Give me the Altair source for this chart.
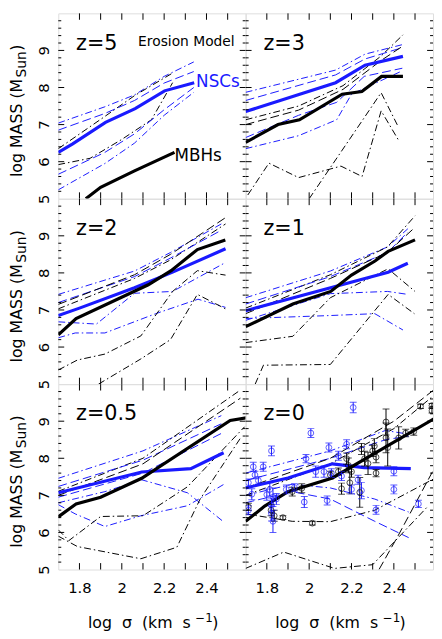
import altair as alt
import pandas as pd

# ------------------------------------------------------------------ data
X_DOMAIN = [1.7, 2.585]
Y_DOMAIN = [5.0, 10.0]
X_LABEL_VALUES = [1.8, 2.0, 2.2, 2.4]
Y_LABEL_VALUES = [5, 6, 7, 8, 9]
X_TICK_VALUES = [1.8, 1.9, 2.0, 2.1, 2.2, 2.3, 2.4, 2.5]
Y_MAJOR_TICKS = [6, 7, 8, 9]
Y_MINOR_TICKS = [5.2, 5.4, 5.6, 5.8, 6.2, 6.4, 6.6, 6.8, 7.2, 7.4, 7.6, 7.8,
                 8.2, 8.4, 8.6, 8.8, 9.2, 9.4, 9.6, 9.8]

PANEL_NAMES = ["z=5", "z=3", "z=2", "z=1", "z=0.5", "z=0"]

# series keys: "nsc"/"mbh" = medians; "_dd" = dash-dot, "_ld" = long dash
Z5 = {
    "nsc_dd_hi": ([1.70, 1.92, 2.06, 2.20, 2.34], [7.04, 7.48, 7.80, 8.30, 8.69]),
    "nsc_ld_hi": ([1.70, 1.92, 2.06, 2.20, 2.34], [6.85, 7.30, 7.65, 8.12, 8.43]),
    "nsc_dd_lo": ([1.70, 1.92, 2.06, 2.20, 2.34], [5.24, 5.95, 6.50, 7.25, 7.87]),
    "nsc_ld_lo": ([1.70, 1.92, 2.06, 2.20, 2.34], [5.66, 6.25, 6.75, 7.40, 8.00]),
    "mbh_dd_hi": ([1.70, 1.92, 2.06, 2.24], [6.35, 7.22, 7.78, 8.39]),
    "mbh_dd_lo": ([1.70, 1.85, 2.00, 2.14, 2.24], [5.92, 6.09, 6.60, 7.13, 8.13]),
    "nsc": ([1.70, 1.768, 1.923, 2.063, 2.202, 2.342], [6.25, 6.48, 7.06, 7.43, 7.91, 8.13]),
    "mbh": ([1.83, 1.90, 2.06, 2.249], [5.00, 5.31, 5.75, 6.25]),
}
Z3 = {
    "nsc_dd_hi": ([1.70, 2.125, 2.264, 2.443], [7.87, 8.47, 8.90, 9.16]),
    "nsc_ld_hi": ([1.70, 2.125, 2.264, 2.443], [7.65, 8.34, 8.77, 9.08]),
    "nsc_ld_lo": ([1.70, 1.95, 2.13, 2.26, 2.44], [6.65, 7.25, 7.60, 8.30, 8.52]),
    "nsc_dd_lo": ([1.70, 1.95, 2.13, 2.20, 2.44], [6.35, 6.70, 7.13, 7.82, 8.45]),
    "mbh_ld_hi": ([1.70, 1.95, 2.16, 2.34, 2.443], [7.00, 7.39, 7.95, 8.73, 9.12]),
    "mbh_dd_hi": ([1.70, 1.95, 2.16, 2.34, 2.443], [7.13, 7.50, 8.05, 8.85, 9.42]),
    "mbh_dd_lo1": ([1.71, 1.81, 1.95, 2.15, 2.25, 2.34, 2.42], [5.10, 5.96, 5.57, 5.88, 5.60, 7.37, 6.60]),
    "mbh_dd_lo2": ([2.00, 2.25, 2.34, 2.42], [5.00, 7.10, 7.86, 6.95]),
    "nsc": ([1.70, 2.125, 2.264, 2.443], [7.35, 8.13, 8.60, 8.84]),
    "mbh": ([1.70, 1.853, 1.954, 2.156, 2.249, 2.342, 2.443], [6.52, 7.00, 7.13, 7.82, 7.89, 8.30, 8.30]),
}
Z2 = {
    "nsc_dd_hi": ([1.70, 2.06, 2.23, 2.47], [7.42, 8.05, 8.55, 9.32]),
    "nsc_ld_hi": ([1.70, 2.06, 2.23, 2.47], [7.20, 7.90, 8.40, 9.15]),
    "nsc_dd_lo1": ([1.70, 1.88, 2.06, 2.24, 2.49], [6.68, 6.62, 7.45, 7.50, 8.28]),
    "nsc_dd_lo2": ([1.70, 1.78, 1.92, 2.16, 2.36, 2.49], [6.25, 6.38, 6.38, 6.90, 7.29, 7.07]),
    "mbh_ld_hi": ([1.70, 2.06, 2.23, 2.49], [7.15, 7.95, 8.50, 9.49]),
    "mbh_dd_hi": ([1.70, 2.06, 2.23, 2.49], [7.03, 7.85, 8.35, 9.32]),
    "mbh_dd_lo1": ([1.70, 1.79, 1.92, 2.09, 2.24, 2.357, 2.49], [5.38, 5.65, 5.81, 6.30, 7.50, 8.06, 7.94]),
    "mbh_dd_lo2": ([1.89, 2.09, 2.23, 2.357, 2.49], [5.00, 5.68, 6.20, 7.42, 7.03]),
    "nsc": ([1.70, 1.80, 2.06, 2.24, 2.49], [6.85, 7.05, 7.60, 8.02, 8.65]),
    "mbh": ([1.70, 1.784, 2.125, 2.233, 2.357, 2.489], [6.33, 6.77, 7.68, 8.06, 8.63, 8.89]),
}
Z1 = {
    "nsc_dd_hi": ([1.70, 2.10, 2.37, 2.466], [7.33, 8.05, 8.70, 9.19]),
    "nsc_ld_hi": ([1.70, 2.10, 2.37, 2.466], [7.16, 7.90, 8.55, 9.10]),
    "nsc_dd_mid": ([1.70, 2.10, 2.37, 2.466], [6.72, 7.44, 7.50, 7.42]),
    "nsc_dd_lo": ([1.70, 2.10, 2.31, 2.443], [6.77, 6.85, 6.90, 6.46]),
    "mbh_dd_hi": ([1.70, 2.10, 2.37, 2.50], [7.05, 7.95, 8.70, 9.54]),
    "mbh_ld_hi": ([1.70, 2.10, 2.37, 2.50], [6.90, 7.85, 8.55, 9.23]),
    "mbh_dd_lo1": ([1.70, 1.923, 2.10, 2.373, 2.50], [6.12, 6.29, 7.33, 8.11, 7.50]),
    "mbh_dd_lo2": ([1.745, 1.784, 2.10, 2.373, 2.497], [5.00, 5.51, 5.53, 7.42, 6.90]),
    "nsc": ([1.70, 2.373, 2.466], [6.98, 8.02, 8.26]),
    "mbh": ([1.70, 1.923, 2.102, 2.20, 2.311, 2.373, 2.50], [6.55, 7.16, 7.50, 7.94, 8.32, 8.58, 8.89]),
}
Z05 = {
    "nsc_dd_hi": ([1.70, 2.10, 2.47], [7.46, 8.20, 9.15]),
    "nsc_ld_hi": ([1.70, 2.10, 2.47], [7.24, 7.95, 8.93]),
    "nsc_ld_mid": ([1.70, 2.10, 2.47], [6.95, 7.60, 8.67]),
    "nsc_dd_loa": ([1.70, 1.92, 2.094, 2.31, 2.48], [6.80, 7.10, 7.42, 7.07, 6.29]),
    "nsc_dd_lob": ([1.70, 1.78, 1.92, 2.09, 2.31, 2.48], [6.75, 6.50, 6.16, 6.45, 6.72, 7.29]),
    "mbh_dd_hi": ([1.70, 2.10, 2.56], [7.11, 8.00, 9.84]),
    "mbh_ld_hi": ([1.70, 2.10, 2.56], [7.00, 7.85, 9.62]),
    "mbh_dd_lo1": ([1.70, 1.75, 1.90, 2.10, 2.31, 2.58], [6.07, 5.78, 6.43, 6.45, 7.23, 8.85]),
    "mbh_dd_lo2": ([1.70, 1.79, 2.09, 2.26, 2.37, 2.56], [5.90, 5.62, 5.29, 5.60, 6.90, 8.54]),
    "nsc": ([1.70, 2.094, 2.326, 2.481], [7.07, 7.63, 7.72, 8.15]),
    "mbh": ([1.70, 1.784, 1.90, 2.094, 2.512, 2.598], [6.42, 6.77, 6.95, 7.46, 9.02, 9.10]),
}
Z0 = {
    "nsc_dd_hi": ([1.70, 2.10, 2.36, 2.47], [7.60, 8.20, 8.75, 8.65]),
    "nsc_ld_hi": ([1.70, 2.10, 2.36, 2.47], [7.40, 8.00, 8.50, 8.60]),
    "nsc_dd_lo": ([1.70, 1.92, 2.10, 2.31, 2.47], [7.00, 7.30, 7.20, 6.90, 6.55]),
    "nsc_ld_lo": ([1.70, 1.92, 2.10, 2.31, 2.47], [6.80, 7.10, 6.90, 6.30, 5.86]),
    "mbh_ld_hi": ([1.70, 2.10, 2.40, 2.59], [7.20, 8.00, 9.00, 9.85]),
    "mbh_dd_hi": ([1.70, 2.10, 2.40, 2.59], [7.00, 7.85, 8.80, 9.70]),
    "mbh_dd_mid": ([1.70, 1.92, 2.10, 2.31, 2.59], [6.50, 6.30, 6.29, 6.60, 7.45]),
    "mbh_dd_lo": ([1.70, 1.88, 2.12, 2.30, 2.56], [5.03, 5.47, 5.03, 5.13, 6.70]),
    "mbh_ld_lo": ([2.33, 2.42, 2.595], [5.00, 5.91, 7.77]),
    "nsc": ([1.70, 1.90, 2.11, 2.26, 2.48], [7.20, 7.47, 7.85, 7.75, 7.72]),
    "mbh": ([1.70, 1.79, 1.90, 2.11, 2.60], [6.30, 6.71, 7.10, 7.47, 9.10]),
}
PANEL_SERIES = [Z5, Z3, Z2, Z1, Z05, Z0]

# observed NSCs (blue) and MBHs (black) in the z=0 panel
OBS_NSC_X = [2.208, 2.008, 1.822, 2.093, 2.177, 1.985, 1.736, 1.783, 1.744, 1.713,
             1.729, 1.713, 1.814, 1.829, 1.822, 1.822, 1.829, 1.892, 1.930, 1.977,
             2.085, 2.031, 2.070, 2.138, 2.153, 2.231, 2.200, 2.247, 2.400, 2.400,
             2.316, 2.516, 1.760, 1.800, 1.845, 2.105]
OBS_NSC_Y = [9.37, 8.68, 8.20, 8.29, 8.38, 7.99, 7.77, 7.77, 7.55, 7.34,
             7.03, 6.60, 7.16, 6.95, 6.73, 6.51, 6.30, 7.16, 7.21, 6.82,
             6.86, 7.64, 7.64, 8.07, 7.52, 7.42, 7.16, 7.13, 7.65, 7.16,
             6.61, 6.77, 7.40, 7.02, 6.90, 7.60]
OBS_NSC_ERR = [0.14, 0.12, 0.13, 0.12, 0.12, 0.11, 0.12, 0.12, 0.10, 0.10,
               0.15, 0.12, 0.18, 0.25, 0.20, 0.20, 0.30, 0.12, 0.10, 0.15,
               0.12, 0.15, 0.15, 0.12, 0.12, 0.12, 0.12, 0.22, 0.12, 0.12,
               0.12, 0.10, 0.10, 0.15, 0.15, 0.12]
OBS_MBH_X = [1.713, 1.820, 1.835, 1.876, 2.015, 1.920, 1.965, 2.100, 2.138, 2.153,
             2.177, 2.185, 2.192, 2.200, 2.239, 2.247, 2.262, 2.278, 2.300, 2.308,
             2.316, 2.316, 2.363, 2.363, 2.371, 2.423, 2.456, 2.494, 2.526, 2.580, 2.580]
OBS_MBH_Y = [6.69, 6.60, 6.45, 6.40, 6.25, 7.10, 7.19, 7.55, 7.64, 7.18,
             7.99, 7.81, 7.34, 7.64, 7.08, 8.25, 7.99, 7.86, 8.20, 8.33,
             8.03, 7.60, 8.98, 8.55, 8.29, 8.55, 8.68, 8.72, 9.40, 9.42, 9.28]
OBS_MBH_ERR = [0.10, 0.15, 0.15, 0.05, 0.05, 0.12, 0.12, 0.10, 0.10, 0.15,
               0.15, 0.20, 0.30, 0.15, 0.40, 0.15, 0.20, 0.30, 0.15, 0.20,
               0.15, 0.10, 0.35, 0.40, 0.50, 0.30, 0.10, 0.10, 0.06, 0.06, 0.06]

# annotation texts and their data positions
Z_LABEL_POS = (1.784, 9.02)
MODEL_TEXT = "Erosion Model"
MODEL_POS = (2.077, 9.12)
NSC_TEXT = "NSCs"
NSC_POS = (2.351, 8.14)
MBH_TEXT = "MBHs"
MBH_POS = (2.249, 6.15)
NB = "\u00a0"
Y_TITLE = ["log" + NB + "MASS" + NB + "(M", "Sun", ")"]
X_TITLE = ["log" + NB * 2 + "σ" + NB * 2 + "(km" + NB * 2 + "s", "−1", ")"]

# ------------------------------------------------------------------ style
BLUE = "#1a1aff"
FONT = "DejaVu Sans"
W, H = 190, 188

xscale = alt.Scale(domain=X_DOMAIN, nice=False, zero=False)
yscale = alt.Scale(domain=Y_DOMAIN, nice=False, zero=False)


def make_axes(row, col):
    yax = None
    xax = None
    if col == 0:
        yax = alt.Axis(values=Y_LABEL_VALUES, labelAngle=270, labelAlign="center",
                       labelBaseline="alphabetic", labelPadding=10, ticks=False,
                       domain=False, grid=False, title=None, labelFontSize=15,
                       labelFont=FONT, labelColor="black", labelFlush=False,
                       labelOverlap=False)
    if row == 2:
        xax = alt.Axis(values=X_LABEL_VALUES, format="~g", labelPadding=11,
                       ticks=False, domain=False, grid=False, title=None,
                       labelFontSize=15, labelFont=FONT, labelColor="black",
                       labelFlush=False, labelOverlap=False)
    return xax, yax


def series_frame(series):
    rows = []
    for key, (xs, ys) in series.items():
        color = BLUE if key.startswith("nsc") else "black"
        if key in ("nsc", "mbh"):
            kind = "main"
        elif "_dd" in key:
            kind = "dd"
        else:
            kind = "ld"
        for j, (xv, yv) in enumerate(zip(xs, ys)):
            rows.append({"series": key, "color": color, "kind": kind,
                         "x": xv, "y": yv, "order": j})
    return pd.DataFrame(rows)


def panel(idx):
    row, col = divmod(idx, 2)
    xax, yax = make_axes(row, col)
    X = lambda f: alt.X(f, scale=xscale, axis=xax, title=None)
    Y = lambda f: alt.Y(f, scale=yscale, axis=yax, title=None)

    df = series_frame(PANEL_SERIES[idx])
    layers = []
    line_styles = [
        ("dd", dict(strokeWidth=1, strokeDash=[7, 3, 1.5, 3])),
        ("ld", dict(strokeWidth=1, strokeDash=[9, 4])),
        ("main", dict(strokeWidth=3.2)),
    ]
    for kind, props in line_styles:
        sub = df[df["kind"] == kind]
        if len(sub) == 0:
            continue
        layers.append(
            alt.Chart(sub).mark_line(clip=True, **props).encode(
                x=X("x:Q"), y=Y("y:Q"), detail="series:N",
                color=alt.Color("color:N", scale=None), order="order:Q")
        )

    if PANEL_NAMES[idx] == "z=0":
        obs = pd.concat([
            pd.DataFrame({"x": OBS_MBH_X, "y": OBS_MBH_Y, "e": OBS_MBH_ERR, "color": "black"}),
            pd.DataFrame({"x": OBS_NSC_X, "y": OBS_NSC_Y, "e": OBS_NSC_ERR, "color": BLUE}),
        ], ignore_index=True)
        obs["lo"] = obs["y"] - obs["e"]
        obs["hi"] = obs["y"] + obs["e"]
        base = alt.Chart(obs)
        layers.append(base.mark_rule(strokeWidth=1, clip=True).encode(
            x=X("x:Q"), y=Y("lo:Q"), y2="hi:Q", color=alt.Color("color:N", scale=None)))
        for f in ("lo:Q", "hi:Q"):
            layers.append(base.mark_tick(orient="horizontal", size=7, thickness=1, clip=True).encode(
                x=X("x:Q"), y=Y(f), color=alt.Color("color:N", scale=None)))
        layers.append(base.mark_point(shape="circle", filled=False, size=34, strokeWidth=1, clip=True).encode(
            x=X("x:Q"), y=Y("y:Q"), color=alt.Color("color:N", scale=None)))

    # panel label
    texts = [({"x": Z_LABEL_POS[0], "y": Z_LABEL_POS[1], "t": PANEL_NAMES[idx]},
              dict(fontSize=21, align="left", baseline="alphabetic", color="black"))]
    if idx == 0:
        texts.append(({"x": MODEL_POS[0], "y": MODEL_POS[1], "t": MODEL_TEXT},
                      dict(fontSize=14, align="left", baseline="alphabetic", color="black")))
        texts.append(({"x": NSC_POS[0], "y": NSC_POS[1], "t": NSC_TEXT},
                      dict(fontSize=17, align="left", baseline="middle", color=BLUE)))
        texts.append(({"x": MBH_POS[0], "y": MBH_POS[1], "t": MBH_TEXT},
                      dict(fontSize=17, align="left", baseline="middle", color="black")))
    for rec, props in texts:
        layers.append(alt.Chart(pd.DataFrame([rec])).mark_text(font=FONT, **props).encode(
            x=X("x:Q"), y=Y("y:Q"), text="t:N"))

    # inward ticks on all four sides
    ymaj = pd.DataFrame({"v": Y_MAJOR_TICKS})
    ymin = pd.DataFrame({"v": Y_MINOR_TICKS})
    xt = pd.DataFrame({"v": X_TICK_VALUES})
    tick = dict(color="black", strokeWidth=1)
    layers += [
        alt.Chart(ymaj).mark_rule(**tick).encode(y=Y("v:Q"), x=alt.value(0), x2=alt.value(6)),
        alt.Chart(ymaj).mark_rule(**tick).encode(y=Y("v:Q"), x=alt.value(W), x2=alt.value(W - 6)),
        alt.Chart(ymin).mark_rule(**tick).encode(y=Y("v:Q"), x=alt.value(0), x2=alt.value(3)),
        alt.Chart(ymin).mark_rule(**tick).encode(y=Y("v:Q"), x=alt.value(W), x2=alt.value(W - 3)),
        alt.Chart(xt).mark_rule(**tick).encode(x=X("v:Q"), y=alt.value(H), y2=alt.value(H - 6.5)),
        alt.Chart(xt).mark_rule(**tick).encode(x=X("v:Q"), y=alt.value(0), y2=alt.value(6.5)),
    ]

    # y title (with subscript) on the left column
    if col == 0:
        y0 = H / 2 + 72
        pieces = [(Y_TITLE[0], -37, y0, 16), (Y_TITLE[1], -33, y0 - 101, 14),
                  (Y_TITLE[2], -37, y0 - 128, 16)]
        for txt, px, py, fs in pieces:
            layers.append(alt.Chart(pd.DataFrame({"t": [txt]})).mark_text(
                font=FONT, fontSize=fs, angle=270, align="left", baseline="alphabetic",
                color="black").encode(text="t:N", x=alt.value(px), y=alt.value(py)))
    # x title (with superscript) on the bottom row
    if row == 2:
        pieces = [(X_TITLE[0], 30, H + 59, 16), (X_TITLE[1], 139, H + 53, 12),
                  (X_TITLE[2], 156, H + 59, 16)]
        for txt, px, py, fs in pieces:
            layers.append(alt.Chart(pd.DataFrame({"t": [txt]})).mark_text(
                font=FONT, fontSize=fs, align="left", baseline="alphabetic",
                color="black").encode(text="t:N", x=alt.value(px), y=alt.value(py)))

    return alt.layer(*layers).properties(width=W, height=H)


chart = alt.concat(*[panel(i) for i in range(6)], columns=2, spacing=0,
                   bounds="flush").properties(padding=0).configure_view(
    stroke="black", strokeWidth=1.5
).configure(background="white")

chart.save("out.html", embed_options={"renderer": "svg", "actions": False})
